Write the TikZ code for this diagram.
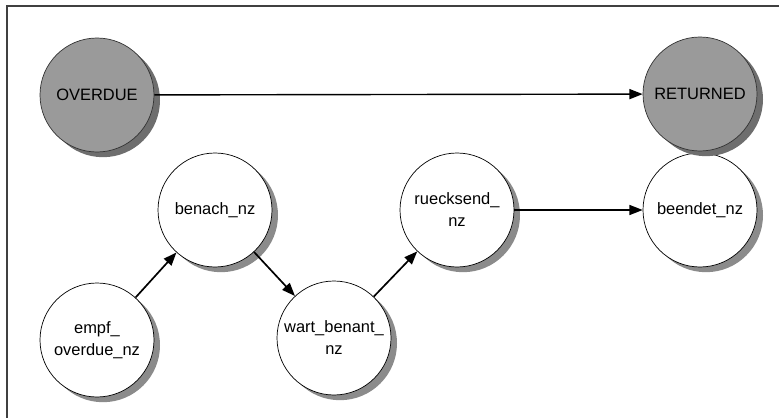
\documentclass[tikz,border=0pt]{standalone}
\usepackage{fontspec}
\setmainfont{Liberation Sans}
\usetikzlibrary{positioning,arrows.meta,shadows}
\definecolor{shade}{HTML}{9A9A9A}
\definecolor{shadowdark}{HTML}{6E6E6E}

\begin{document}
\begin{tikzpicture}[
  font=\fontsize{11.7}{15.6}\selectfont,
  node/.style={circle, draw, line width=0.5pt, minimum size=2.85cm, inner sep=0pt, align=center},
  state/.style={node, fill=white, drop shadow={shadow xshift=0.15cm, shadow yshift=-0.13cm, fill=shadowdark!80, opacity=1}},
  final/.style={node, fill=shade, draw=black!80, drop shadow={shadow xshift=0.15cm, shadow yshift=-0.13cm, fill=shadowdark, opacity=1}},
  arr/.style={-{Triangle[length=0.33cm, width=0.25cm]}, line width=1pt},
  on grid]

\useasboundingbox (0,0) rectangle (19.475,-10.45);
\draw[line width=1pt, black!75] (0.175,-10.45) -- (0.175,-0.15) -- (19.475,-0.15);

\node[state] (empf) at (2.425,-8.5) {empf\_\\overdue\_nz};
\node[state, above right=3.25cm and 2.95cm of empf] (benach) {benach\_nz};
\node[state, below right=3.2cm and 2.975cm of benach] (wart) {wart\_benant\_\\nz};
\node[state, above right=3.2cm and 3.075cm of wart] (rueck) {ruecksend\_\\nz};
\node[state, right=6.075cm of rueck] (beendet) {beendet\_nz};

\node[final, above=6.125cm of empf] (overdue) {OVERDUE};
\node[final, above=2.9cm of beendet] (returned) {RETURNED};

\draw[arr] (overdue) -- (returned);
\draw[arr, line width=1.2pt] (empf) -- (benach);
\draw[arr, line width=1.2pt] (benach) -- (wart);
\draw[arr, line width=1.2pt] (wart) -- (rueck);
\draw[arr] (rueck) -- (beendet);
\end{tikzpicture}
\end{document}
